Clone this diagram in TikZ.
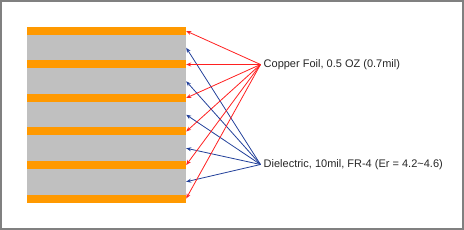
\documentclass[tikz,border=0pt]{standalone}
\usepackage{fontspec}
\setmainfont{Liberation Sans}
\usetikzlibrary{positioning,arrows.meta}
\definecolor{foilorange}{HTML}{FF9900}
\definecolor{coregray}{HTML}{C0C0C0}
\definecolor{cuarrow}{HTML}{FF2020}
\definecolor{diarrow}{HTML}{22409A}
\definecolor{framegray}{HTML}{808080}

\begin{document}
\begin{tikzpicture}[x=1pt,y=-1pt,>={Stealth[length=5pt,width=4pt]},
  core/.style={fill=coregray,minimum width=159pt,minimum height=25.5pt,inner sep=0pt},
  foil/.style={fill=foilorange,minimum width=159pt,minimum height=8pt,inner sep=0pt},
  callout/.style={anchor=west,inner sep=3pt,text=black!85,font=\fontsize{11}{13}\selectfont}]
\useasboundingbox (0,0) rectangle (464,230);
\draw[framegray,line width=2pt] (1,1) rectangle (463,229);
% board stack
\foreach \i in {1,...,5}
  \node[core] (de\i) at (106.5,{47.75+33.5*(\i-1)}) {};
\foreach \i in {1,...,6}
  \node[foil] (cf\i) at (106.5,{31+33.5*(\i-1)}) {};
% labels
\node[callout] (cflabel) at (260.5,64.5) {Copper Foil, 0.5 OZ (0.7mil)};
\node[callout] (delabel) at (260.5,164.5) {Dielectric, 10mil, FR-4 (Er = 4.2\textasciitilde4.6)};
% arrows
\foreach \i in {1,...,5}
  \draw[->,diarrow,line width=0.8pt] (delabel.west) -- (de\i.east);
\foreach \i in {1,...,6}
  \draw[->,cuarrow,line width=0.8pt] (cflabel.west) -- (cf\i.east);
\end{tikzpicture}
\end{document}
